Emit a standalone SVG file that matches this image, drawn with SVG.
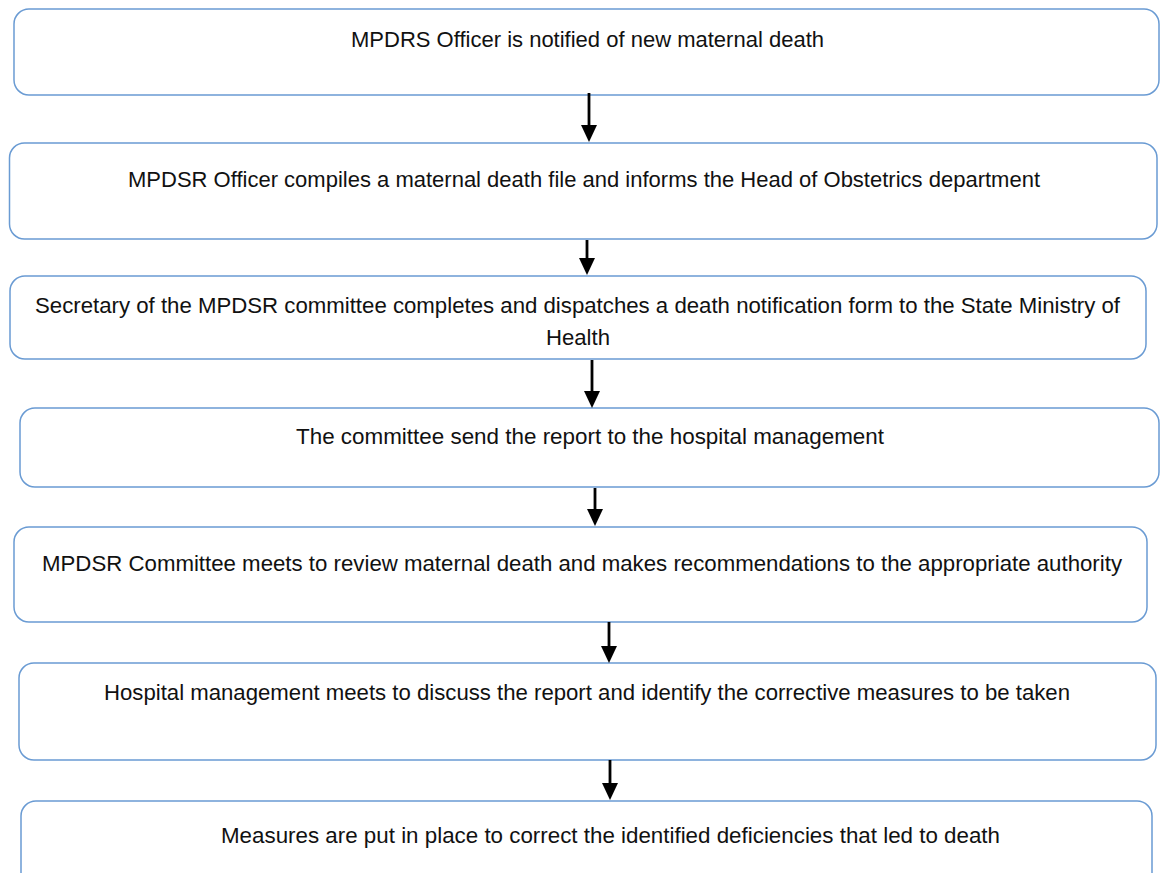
<svg xmlns="http://www.w3.org/2000/svg" width="1161" height="873" viewBox="0 0 1161 873">
<style>
.box{fill:#ffffff;stroke:#6a9bd3;stroke-width:1.5}
.t{font-family:"Liberation Sans",Arial,sans-serif;font-size:21.5px;fill:#111111}
.c{stroke:#000000;stroke-width:2.8;fill:none}
</style>
<defs>
<marker id="ah" markerUnits="userSpaceOnUse" markerWidth="17" markerHeight="16" refX="9" refY="8" orient="auto">
<path d="M0,0 L17,8 L0,16 z" fill="#000000"/>
</marker>
</defs>
<rect width="1161" height="873" fill="#ffffff"/>
<g id="n1"><rect class="box" x="14" y="9" width="1145" height="86" rx="15"/><text class="t" x="351" y="47" textLength="473" lengthAdjust="spacingAndGlyphs">MPDRS Officer is notified of new maternal death</text></g>
<g id="n2"><rect class="box" x="9.5" y="143" width="1147.5" height="96" rx="15"/><text class="t" x="128" y="187" textLength="912" lengthAdjust="spacingAndGlyphs">MPDSR Officer compiles a maternal death file and informs the Head of Obstetrics department</text></g>
<g id="n3"><rect class="box" x="10" y="276" width="1136" height="83" rx="15"/><text class="t" x="35" y="313" textLength="1085" lengthAdjust="spacingAndGlyphs">Secretary of the MPDSR committee completes and dispatches a death notification form to the State Ministry of</text><text class="t" x="546" y="345" textLength="64" lengthAdjust="spacingAndGlyphs">Health</text></g>
<g id="n4"><rect class="box" x="20" y="408" width="1139" height="79" rx="15"/><text class="t" x="296" y="444" textLength="588" lengthAdjust="spacingAndGlyphs">The committee send the report to the hospital management</text></g>
<g id="n5"><rect class="box" x="14" y="527" width="1133" height="95" rx="15"/><text class="t" x="42" y="571" textLength="1080" lengthAdjust="spacingAndGlyphs">MPDSR Committee meets to review maternal death and makes recommendations to the appropriate authority</text></g>
<g id="n6"><rect class="box" x="19" y="663" width="1137" height="97" rx="15"/><text class="t" x="104" y="700" textLength="966" lengthAdjust="spacingAndGlyphs">Hospital management meets to discuss the report and identify the corrective measures to be taken</text></g>
<g id="n7"><rect class="box" x="21" y="801" width="1131" height="90" rx="15"/><text class="t" x="221" y="843" textLength="779" lengthAdjust="spacingAndGlyphs">Measures are put in place to correct the identified deficiencies that led to death</text></g>
<g id="connectors">
<line class="c" x1="589" y1="93" x2="589" y2="134" marker-end="url(#ah)"/>
<line class="c" x1="587" y1="240" x2="587" y2="267" marker-end="url(#ah)"/>
<line class="c" x1="592" y1="360" x2="592" y2="400" marker-end="url(#ah)"/>
<line class="c" x1="595" y1="488" x2="595" y2="518" marker-end="url(#ah)"/>
<line class="c" x1="609" y1="622" x2="609" y2="655" marker-end="url(#ah)"/>
<line class="c" x1="610" y1="760" x2="610" y2="792" marker-end="url(#ah)"/>
</g>
</svg>
